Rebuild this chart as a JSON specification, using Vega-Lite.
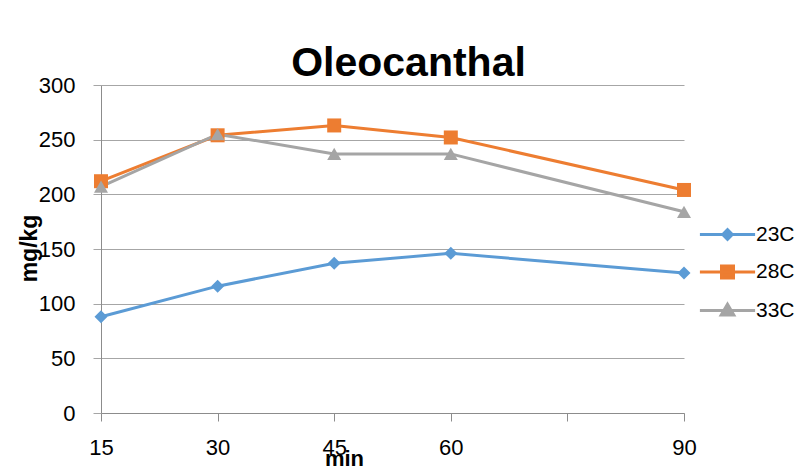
{
  "$schema": "https://vega.github.io/schema/vega-lite/v6.json",
  "width": 583,
  "height": 328,
  "autosize": "none",
  "padding": {"left": 101, "top": 85, "right": 118, "bottom": 61},
  "background": "white",
  "config": {"font": "Liberation Sans", "view": {"stroke": null}},
  "title": {"text": "Oleocanthal", "fontSize": 41, "fontWeight": "bold", "font": "Liberation Sans", "color": "black", "anchor": "middle", "dx": 16, "offset": 10, "dy": 53, "baseline": "alphabetic"},
  "data": {"values": [
    {"min": 15, "val": 88, "series": "23C"},
    {"min": 30, "val": 116, "series": "23C"},
    {"min": 45, "val": 137, "series": "23C"},
    {"min": 60, "val": 146, "series": "23C"},
    {"min": 90, "val": 128, "series": "23C"},
    {"min": 15, "val": 212, "series": "28C"},
    {"min": 30, "val": 254, "series": "28C"},
    {"min": 45, "val": 263, "series": "28C"},
    {"min": 60, "val": 252, "series": "28C"},
    {"min": 90, "val": 204, "series": "28C"},
    {"min": 15, "val": 207, "series": "33C"},
    {"min": 30, "val": 255, "series": "33C"},
    {"min": 45, "val": 237, "series": "33C"},
    {"min": 60, "val": 237, "series": "33C"},
    {"min": 90, "val": 184, "series": "33C"}
  ]},
  "encoding": {
    "x": {"field": "min", "type": "quantitative", "scale": {"domain": [15, 90], "nice": false, "zero": false},
      "axis": {"values": [15, 30, 45, 60, 75, 90], "labelExpr": "datum.value == 75 ? '' : datum.label", "grid": false, "title": "min", "titleFontSize": 22, "titleFontWeight": "bold", "titleColor": "black", "titleX": 243, "titleY": 52, "titleBaseline": "alphabetic", "titleAlign": "center", "labelFontSize": 22, "labelColor": "black", "labelPadding": 16, "tickSize": 8, "tickColor": "#8c8c8c", "domainColor": "#8c8c8c", "labelFlush": false, "labelOverlap": false}},
    "y": {"field": "val", "type": "quantitative", "scale": {"domain": [0, 300], "nice": false},
      "axis": {"values": [0, 50, 100, 150, 200, 250, 300], "grid": true, "gridColor": "#a6a6a6", "title": "mg/kg", "titleFontSize": 23, "titleFontWeight": "bold", "titleColor": "black", "titleX": -65, "titleY": 163, "titleBaseline": "alphabetic", "titleAlign": "center", "labelFontSize": 22, "labelColor": "black", "labelPadding": 18, "tickSize": 8, "tickColor": "#a6a6a6", "domainColor": "#8c8c8c", "labelFlush": false}}
  },
  "layer": [
    {"mark": {"type": "line", "strokeWidth": 3},
     "encoding": {"color": {"field": "series", "type": "nominal",
       "scale": {"domain": ["23C", "28C", "33C"], "range": ["#5B9BD5", "#ED7D31", "#A5A5A5"]},
       "legend": {"orient": "none", "legendX": 596, "legendY": 139, "title": null, "labelFontSize": 21, "labelColor": "black", "symbolSize": 144, "symbolStrokeWidth": 3, "rowPadding": 13.5, "symbolOffset": 20, "labelOffset": 18, "padding": 0,
         "encode": {"symbols": {"update": {
           "shape": {"signal": "datum.value == '23C' ? 'M-4.6,0H4.6M-0.8,0L0,-0.8L0.8,0L0,0.8Z' : datum.value == '28C' ? 'M-4.6,0H4.6M-1,-1H1V1H-1Z' : 'M-4.6,0H4.6M0,-1.05L1.05,0.75L-1.05,0.75Z'"},
           "fill": {"signal": "datum.value == '23C' ? '#5B9BD5' : datum.value == '28C' ? '#ED7D31' : '#A5A5A5'"},
           "stroke": {"signal": "datum.value == '23C' ? '#5B9BD5' : datum.value == '28C' ? '#ED7D31' : '#A5A5A5'"},
           "strokeWidth": {"value": 3},
           "opacity": {"value": 1}
         }}}}}}},
    {"transform": [{"filter": "datum.series == '23C'"}], "mark": {"type": "point", "shape": "diamond", "filled": true, "size": 169, "opacity": 1, "color": "#5B9BD5"}},
    {"transform": [{"filter": "datum.series == '28C'"}], "mark": {"type": "point", "shape": "square", "filled": true, "size": 196, "opacity": 1, "color": "#ED7D31"}},
    {"transform": [{"filter": "datum.series == '33C'"}], "mark": {"type": "point", "shape": "triangle-up", "filled": true, "size": 196, "opacity": 1, "color": "#A5A5A5"}}
  ]
}
